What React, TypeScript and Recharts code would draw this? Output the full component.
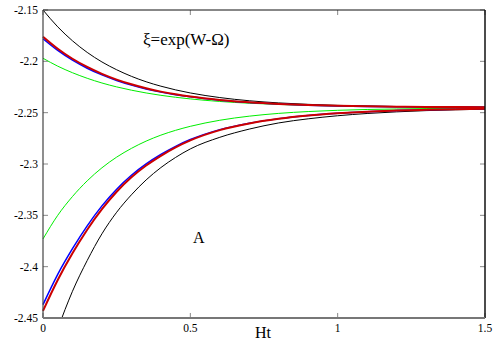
import React from "react";
import { LineChart, Line, XAxis, YAxis } from "recharts";

const xs = [0, 0.05, 0.1, 0.15, 0.2, 0.25, 0.3, 0.35, 0.4, 0.45, 0.5, 0.6, 0.7, 0.8, 0.9, 1.0, 1.1, 1.2, 1.3, 1.4, 1.5];

const blackUp = [-2.15, -2.1664, -2.18, -2.1913, -2.2006, -2.2082, -2.2146, -2.2199, -2.2242, -2.2278, -2.2308, -2.2353, -2.2384, -2.2405, -2.2419, -2.2429, -2.2435, -2.244, -2.2443, -2.2445, -2.2447];
const redUp = [-2.176, -2.1877, -2.1975, -2.2055, -2.2122, -2.2178, -2.2224, -2.2263, -2.2295, -2.2321, -2.2343, -2.2376, -2.2399, -2.2415, -2.2426, -2.2433, -2.2438, -2.2442, -2.2444, -2.2446, -2.2447];
const blueUp = [-2.178, -2.1894, -2.1989, -2.2067, -2.2132, -2.2186, -2.2231, -2.2269, -2.23, -2.2325, -2.2346, -2.2378, -2.24, -2.2416, -2.2427, -2.2434, -2.2439, -2.2442, -2.2444, -2.2446, -2.2447];
const greenUp = [-2.197, -2.2047, -2.2111, -2.2165, -2.2211, -2.2249, -2.2281, -2.2308, -2.2331, -2.235, -2.2366, -2.2391, -2.2408, -2.242, -2.2429, -2.2435, -2.2439, -2.2442, -2.2444, -2.2446, -2.2447];
const greenLow = [-2.373, -2.35, -2.3317, -2.3164, -2.3037, -2.2933, -2.2848, -2.2777, -2.2719, -2.2672, -2.2633, -2.2574, -2.2534, -2.2507, -2.2489, -2.2477, -2.2469, -2.2464, -2.246, -2.2458, -2.2456];
const blueLow = [-2.437, -2.4075, -2.3825, -2.3602, -2.3408, -2.3245, -2.311, -2.2999, -2.2907, -2.2828, -2.2762, -2.2665, -2.2602, -2.2558, -2.2527, -2.2505, -2.249, -2.248, -2.2472, -2.2466, -2.2462];
const redLow = [-2.443, -2.413, -2.387, -2.364, -2.344, -2.327, -2.313, -2.3015, -2.292, -2.2838, -2.277, -2.267, -2.2605, -2.256, -2.2528, -2.2506, -2.249, -2.248, -2.2472, -2.2466, -2.2462];
const blackLow = [-2.505, -2.461, -2.424, -2.394, -2.368, -2.347, -2.33, -2.3155, -2.3035, -2.2936, -2.2853, -2.274, -2.266, -2.26, -2.256, -2.253, -2.2508, -2.2492, -2.248, -2.2472, -2.2466];

const xTicks = [0, 0.5, 1, 1.5];
const yTicks = [-2.45, -2.4, -2.35, -2.3, -2.25, -2.2, -2.15];
const xDomain = [0, 1.5];
const yDomain = [-2.45, -2.15];

const titleText = "ξ=exp(W-Ω)";
const markText = "A";
const xLabel = "Ht";

const data = xs.map((x, i) => ({
  x,
  blackUp: blackUp[i],
  blueUp: blueUp[i],
  redUp: redUp[i],
  greenUp: greenUp[i],
  greenLow: greenLow[i],
  blueLow: blueLow[i],
  redLow: redLow[i],
  blackLow: blackLow[i],
}));

// tick mark length, expressed in data units (about 5 px each way)
const TX = 0.017;
const TY = 0.0049;

const [x0, x1] = xDomain;
const [y0, y1] = yDomain;

const frameLeft = [{ x: x0, v: y0 }, { x: x0, v: y1 }];
const frameRight = [{ x: x1, v: y0 }, { x: x1, v: y1 }];
const frameTop = [{ x: x0, v: y1 }, { x: x1, v: y1 }];
const frameBottom = [{ x: x0, v: y0 }, { x: x1, v: y0 }];

const leftTickMarks = yTicks.flatMap((t) => [{ x: x0, v: t }, { x: x0 + TX, v: t }, { x: x0 + TX, v: null }]);
const rightTickMarks = yTicks.flatMap((t) => [{ x: x1, v: t }, { x: x1 - TX, v: t }, { x: x1 - TX, v: null }]);
const bottomTickMarks = xTicks.flatMap((t) => [{ x: t, v: y0 }, { x: t, v: y0 + TY }, { x: t, v: null }]);
const topTickMarks = xTicks.flatMap((t) => [{ x: t, v: y1 }, { x: t, v: y1 - TY }, { x: t, v: null }]);

const FONT = "Liberation Serif";

const LeftTick = (props: any) => {
  const { x, y, payload } = props;
  return (
    <text x={x - 5} y={y + 4} textAnchor="end" fontFamily={FONT} fontSize={11.5} fill="#000">
      {String(payload.value)}
    </text>
  );
};

const BottomTick = (props: any) => {
  const { x, y, payload } = props;
  return (
    <text x={x} y={y + 14} textAnchor="middle" fontFamily={FONT} fontSize={11.5} fill="#000">
      {String(payload.value)}
    </text>
  );
};

const textBase: React.CSSProperties = {
  position: "absolute",
  fontFamily: FONT,
  color: "#000",
  lineHeight: 1,
  whiteSpace: "nowrap",
};

const frameProps = {
  xAxisId: "top",
  yAxisId: "right",
  dataKey: "v",
  type: "linear" as const,
  dot: false,
  activeDot: false,
  connectNulls: false,
  isAnimationActive: false,
  legendType: "none" as const,
};

export default function App() {
  return (
    <div style={{ position: "relative", width: 500, height: 350 }}>
      <style>{"body{margin:0}"}</style>
      <LineChart
        width={500}
        height={350}
        data={data}
        margin={{ top: 10, right: 15, bottom: 0, left: 0 }}
      >
        <XAxis
          dataKey="x"
          type="number"
          domain={xDomain}
          ticks={xTicks}
          height={32}
          tickSize={0}
          tickMargin={0}
          tick={<BottomTick />}
          axisLine={false}
          tickLine={false}
        />
        <XAxis
          xAxisId="top"
          dataKey="x"
          type="number"
          orientation="top"
          domain={xDomain}
          height={0}
          tick={false}
          axisLine={false}
          tickLine={false}
        />
        <YAxis
          type="number"
          domain={yDomain}
          ticks={yTicks}
          allowDataOverflow
          width={43}
          tickSize={0}
          tickMargin={0}
          tick={<LeftTick />}
          axisLine={false}
          tickLine={false}
        />
        <YAxis
          yAxisId="right"
          orientation="right"
          type="number"
          domain={yDomain}
          width={0}
          tick={false}
          axisLine={false}
          tickLine={false}
        />
        <Line dataKey="greenUp" type="monotone" stroke="#00ee00" strokeWidth={1} dot={false} isAnimationActive={false} />
        <Line dataKey="greenLow" type="monotone" stroke="#00ee00" strokeWidth={1} dot={false} isAnimationActive={false} />
        <Line dataKey="blackUp" type="monotone" stroke="#000" strokeWidth={1} dot={false} isAnimationActive={false} />
        <Line dataKey="blackLow" type="monotone" stroke="#000" strokeWidth={1} dot={false} isAnimationActive={false} />
        <Line dataKey="blueUp" type="monotone" stroke="#0000ff" strokeWidth={1.5} dot={false} isAnimationActive={false} />
        <Line dataKey="blueLow" type="monotone" stroke="#0000ff" strokeWidth={1.5} dot={false} isAnimationActive={false} />
        <Line dataKey="redUp" type="monotone" stroke="#cc0000" strokeWidth={2} dot={false} isAnimationActive={false} />
        <Line dataKey="redLow" type="monotone" stroke="#cc0000" strokeWidth={2} dot={false} isAnimationActive={false} />
        <Line {...frameProps} data={leftTickMarks} stroke="#888" strokeWidth={1} />
        <Line {...frameProps} data={rightTickMarks} stroke="#888" strokeWidth={1} />
        <Line {...frameProps} data={bottomTickMarks} stroke="#888" strokeWidth={1} />
        <Line {...frameProps} data={topTickMarks} stroke="#888" strokeWidth={1} />
        <Line {...frameProps} data={frameTop} stroke="#111" strokeWidth={1} />
        <Line {...frameProps} data={frameRight} stroke="#111" strokeWidth={1.5} />
        <Line {...frameProps} data={frameLeft} stroke="#444" strokeWidth={1.2} />
        <Line {...frameProps} data={frameBottom} stroke="#777" strokeWidth={2} />
      </LineChart>
      <div style={{ ...textBase, left: 143, top: 31, fontSize: 17 }}>{titleText}</div>
      <div style={{ ...textBase, left: 193, top: 230, fontSize: 16 }}>{markText}</div>
      <div style={{ ...textBase, left: 255, top: 325, fontSize: 16 }}>{xLabel}</div>
    </div>
  );
}
